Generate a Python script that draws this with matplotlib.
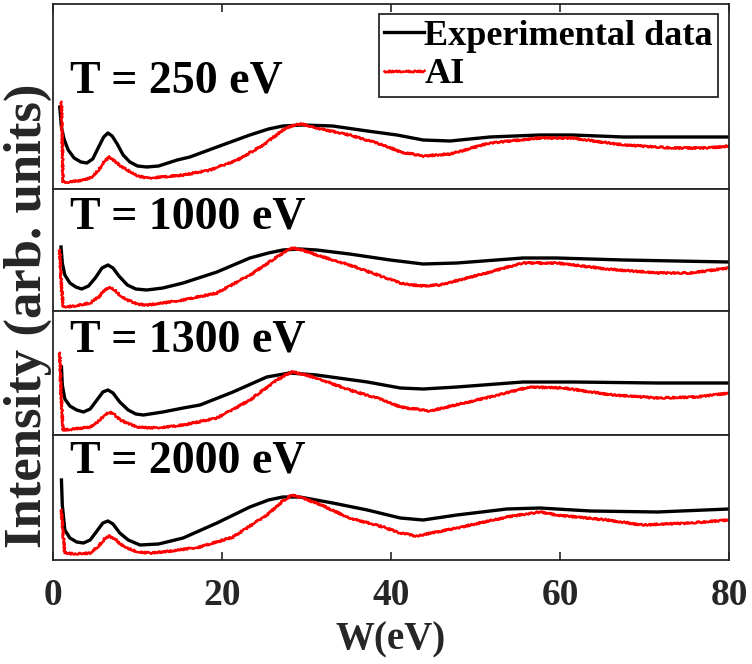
import matplotlib
matplotlib.use('Agg')
import matplotlib.pyplot as plt

plt.rcParams['font.family'] = ['Liberation Serif', 'DejaVu Serif']
plt.rcParams['font.weight'] = 'bold'

# Energy loss W (eV) and intensity (arb. units)
labels = ['T = 250 eV', 'T = 1000 eV', 'T = 1300 eV', 'T = 2000 eV']

w_exp_250 = [0.8, 1.0, 1.3, 1.8, 2.5, 3.3, 4.0, 4.7, 5.4, 6.0, 6.5, 7.0, 7.6, 8.3, 9.1, 10.0, 11.1, 12.5,
             14.7, 16.2, 19.4, 23.3, 25.5, 27.2, 29.6, 33.1, 37.2, 40.7, 43.8, 47.0, 51.7, 57.6, 61.5,
             67.5, 73.4, 80.0]
i_exp_250 = [0.82, 0.62, 0.50, 0.39, 0.31, 0.27, 0.26, 0.30, 0.42, 0.52, 0.56, 0.53, 0.45, 0.34, 0.27,
             0.23, 0.22, 0.23, 0.29, 0.32, 0.42, 0.54, 0.60, 0.63, 0.64, 0.63, 0.58, 0.54, 0.49, 0.48,
             0.52, 0.54, 0.54, 0.52, 0.52, 0.52]
w_ai_250 = [1.0, 1.1, 1.2, 2.0, 3.6, 4.6, 5.4, 6.1, 6.7, 7.3, 8.0, 8.8, 10.0, 11.1, 13.0, 15.4, 18.6,
            21.8, 24.9, 27.2, 28.5, 29.5, 31.2, 35.1, 39.1, 41.1, 43.8, 47.0, 51.7, 57.6, 61.5, 67.5,
            73.4, 77.4, 80.0]
i_ai_250 = [0.87, 0.45, 0.07, 0.07, 0.09, 0.12, 0.19, 0.28, 0.32, 0.28, 0.23, 0.19, 0.13, 0.11, 0.12,
            0.14, 0.19, 0.29, 0.44, 0.59, 0.64, 0.65, 0.61, 0.54, 0.44, 0.37, 0.33, 0.35, 0.46, 0.51,
            0.51, 0.44, 0.41, 0.41, 0.43]

w_exp_1000 = [0.95, 1.1, 1.4, 2.0, 2.7, 3.4, 4.2, 5.0, 5.8, 6.5, 7.1, 7.8, 8.8, 9.8, 11.1, 13.0, 15.4,
              19.4, 23.3, 25.5, 27.2, 29.2, 31.2, 35.1, 39.9, 43.8, 47.8, 55.6, 59.6, 67.5, 80.0]
i_exp_1000 = [0.64, 0.48, 0.36, 0.28, 0.24, 0.22, 0.25, 0.33, 0.43, 0.46, 0.43, 0.35, 0.26, 0.22, 0.21,
              0.23, 0.28, 0.39, 0.53, 0.58, 0.61, 0.62, 0.61, 0.57, 0.51, 0.47, 0.48, 0.53, 0.53, 0.51,
              0.49]
w_ai_1000 = [0.8, 0.95, 1.2, 2.5, 4.4, 5.4, 6.1, 6.7, 7.3, 8.0, 8.8, 10.0, 11.1, 13.0, 15.4, 19.4, 23.3,
             26.5, 27.6, 28.4, 29.5, 31.2, 35.1, 39.1, 41.1, 43.4, 45.8, 51.7, 55.6, 59.6, 65.6, 71.5,
             75.4, 80.0]
i_ai_1000 = [0.61, 0.30, 0.04, 0.05, 0.08, 0.14, 0.21, 0.24, 0.21, 0.15, 0.11, 0.07, 0.06, 0.08, 0.11,
             0.18, 0.36, 0.54, 0.60, 0.63, 0.61, 0.56, 0.46, 0.34, 0.28, 0.25, 0.26, 0.39, 0.48, 0.48,
             0.42, 0.38, 0.38, 0.43]

w_exp_1300 = [1.0, 1.1, 1.4, 2.0, 2.8, 3.6, 4.4, 5.2, 5.9, 6.5, 7.1, 7.9, 8.9, 9.8, 10.7, 13.0, 15.4,
              17.4, 21.3, 25.3, 28.0, 31.2, 37.2, 41.1, 43.8, 47.8, 55.6, 61.5, 71.5, 80.0]
i_exp_1300 = [0.68, 0.50, 0.36, 0.29, 0.25, 0.23, 0.26, 0.35, 0.43, 0.45, 0.42, 0.33, 0.25, 0.21, 0.20,
              0.23, 0.27, 0.30, 0.43, 0.58, 0.62, 0.60, 0.53, 0.47, 0.46, 0.48, 0.53, 0.53, 0.52, 0.52]
w_ai_1300 = [0.8, 0.95, 1.2, 2.5, 4.4, 5.4, 6.1, 6.7, 7.3, 8.0, 8.8, 10.0, 11.5, 13.5, 15.4, 19.4, 23.3,
             26.5, 27.5, 28.3, 29.5, 31.2, 35.1, 39.1, 41.1, 44.6, 51.7, 56.4, 60.4, 66.3, 71.5, 76.2,
             80.0]
i_ai_1300 = [0.82, 0.40, 0.05, 0.06, 0.08, 0.14, 0.20, 0.23, 0.20, 0.15, 0.12, 0.08, 0.07, 0.08, 0.10,
             0.17, 0.35, 0.55, 0.60, 0.63, 0.61, 0.57, 0.45, 0.35, 0.28, 0.24, 0.38, 0.48, 0.47, 0.40,
             0.37, 0.38, 0.42]

w_exp_2000 = [1.0, 1.1, 1.4, 2.0, 2.8, 3.6, 4.4, 5.2, 5.9, 6.5, 7.1, 7.9, 8.9, 10.3, 12.5, 15.4, 19.4,
              23.3, 25.5, 27.2, 29.2, 33.1, 37.2, 41.1, 43.8, 47.8, 53.7, 57.6, 63.6, 71.5, 80.0]
i_exp_2000 = [0.80, 0.55, 0.30, 0.22, 0.18, 0.17, 0.20, 0.29, 0.37, 0.39, 0.36, 0.27, 0.20, 0.15, 0.16,
              0.22, 0.37, 0.53, 0.60, 0.63, 0.63, 0.57, 0.50, 0.42, 0.40, 0.45, 0.51, 0.52, 0.49, 0.48,
              0.51]
w_ai_2000 = [1.0, 1.2, 1.4, 2.5, 4.4, 5.4, 6.1, 6.7, 7.3, 8.0, 8.8, 10.0, 11.5, 14.0, 17.4, 21.3, 25.3,
             27.2, 28.3, 29.5, 31.2, 35.1, 39.1, 41.1, 43.0, 47.8, 53.7, 57.6, 59.6, 65.6, 69.8, 75.4,
             80.0]
i_ai_2000 = [0.50, 0.25, 0.07, 0.06, 0.07, 0.14, 0.21, 0.24, 0.21, 0.16, 0.12, 0.08, 0.07, 0.09, 0.13,
             0.23, 0.45, 0.59, 0.65, 0.62, 0.57, 0.42, 0.33, 0.27, 0.24, 0.32, 0.43, 0.48, 0.45, 0.40,
             0.35, 0.37, 0.40]

exp_w = [w_exp_250, w_exp_1000, w_exp_1300, w_exp_2000]
exp_i = [i_exp_250, i_exp_1000, i_exp_1300, i_exp_2000]
ai_w = [w_ai_250, w_ai_1000, w_ai_1300, w_ai_2000]
ai_i = [i_ai_250, i_ai_1000, i_ai_1300, i_ai_2000]
y_tops = [1.85, 1.22, 1.24, 1.25]
label_y = [0.519, 0.68, 0.67, 0.70]
x_ticks = [0, 20, 40, 60, 80]

fig = plt.figure(figsize=(7.52, 6.64), dpi=100)
gs = fig.add_gridspec(4, 1, height_ratios=y_tops, hspace=0,
                      left=53/752, right=729/752, top=1-4/664, bottom=1-560/664)
axes = [fig.add_subplot(gs[i]) for i in range(4)]

for k, ax in enumerate(axes):
    ax.plot(exp_w[k], exp_i[k], color='black', lw=2.4, label='Experimental data',
            solid_joinstyle='round')
    l2, = ax.plot(ai_w[k], ai_i[k], color='#ff0000', lw=1.8, label='AI')
    l2.set_sketch_params(0.9, 2.5, 2)
    ax.set_xlim(0, 80)
    ax.set_ylim(0, y_tops[k])
    ax.set_yticks([])
    ax.set_xticks(x_ticks)
    ax.tick_params(axis='x', direction='in', length=6, width=1.2, color='#262626',
                   top=(k == 0), bottom=(k == 3), labelbottom=(k == 3), labelsize=27)
    for s in ax.spines.values():
        s.set_linewidth(1.3)
        s.set_color('#262626')
    ax.text((70-53)/676, label_y[k], labels[k], transform=ax.transAxes, fontsize=33,
            fontweight='bold', va='baseline', ha='left')

for t in axes[3].get_xticklabels():
    t.set_fontweight('bold')
    t.set_color('#262626')
axes[3].tick_params(axis='x', pad=13)
axes[3].set_xlabel('W(eV)', fontsize=28, fontweight='bold', color='#262626', labelpad=6)

# legend handles come from the first panel
leg = axes[0].legend(loc='upper right', bbox_to_anchor=(0.984, 0.946), borderaxespad=0,
                     fontsize=26, handlelength=1.1, handletextpad=0.0, borderpad=0.15,
                     labelspacing=0.15, fancybox=False, framealpha=1)
leg.get_frame().set_edgecolor('#262626')
leg.get_frame().set_linewidth(1.3)
for t in leg.get_texts():
    t.set_fontweight('bold')

fig.text(28/752, 1-316/664, 'Intensity (arb. units)', rotation=90, fontsize=38,
         fontweight='bold', color='#262626', ha='center', va='center')

plt.savefig('out.png', dpi=100)
plt.close()
